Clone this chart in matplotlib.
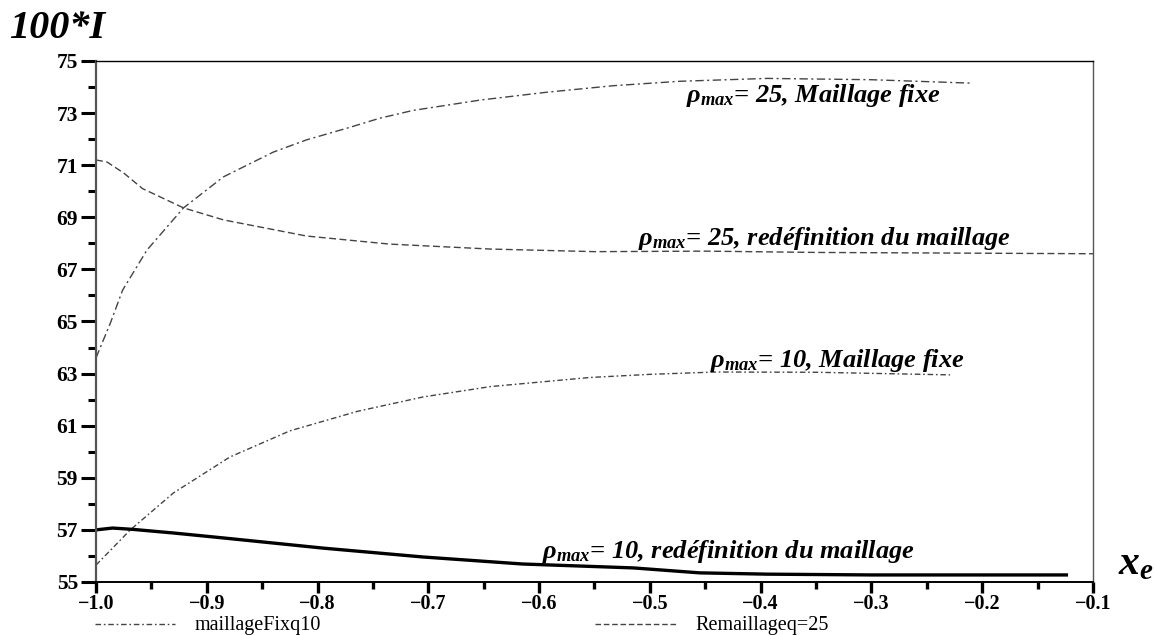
import matplotlib
matplotlib.use("Agg")
import matplotlib.pyplot as plt
from matplotlib.ticker import MultipleLocator, FixedLocator
from matplotlib.lines import Line2D

plt.rcParams['font.family'] = ['Liberation Serif', 'DejaVu Serif']
plt.rcParams['mathtext.fontset'] = 'custom'
plt.rcParams['mathtext.rm'] = 'Liberation Serif:bold:italic'
plt.rcParams['mathtext.it'] = 'Liberation Serif:bold:italic'
plt.rcParams['mathtext.bf'] = 'Liberation Serif:bold:italic'
plt.rcParams['lines.scale_dashes'] = False

# rho_max = 25, maillage fixe
x_25fix = [-1.0, -0.987, -0.976, -0.954, -0.921, -0.885, -0.84, -0.81, -0.771,
           -0.744, -0.714, -0.653, -0.593, -0.533, -0.473, -0.394, -0.30, -0.211]
y_25fix = [63.6, 64.94, 66.2, 67.74, 69.36, 70.55, 71.5, 71.97, 72.45,
           72.8, 73.1, 73.5, 73.8, 74.05, 74.22, 74.33, 74.28, 74.15]

# rho_max = 25, redefinition du maillage
x_25re = [-1.0, -0.99, -0.975, -0.958, -0.921, -0.885, -0.81, -0.735, -0.644,
          -0.55, -0.45, -0.35, -0.2, -0.1]
y_25re = [71.2, 71.12, 70.7, 70.1, 69.36, 68.9, 68.28, 67.97, 67.78,
          67.68, 67.7, 67.65, 67.62, 67.6]

# rho_max = 10, maillage fixe
x_10fix = [-1.0, -0.969, -0.93, -0.879, -0.825, -0.764, -0.705, -0.644,
           -0.554, -0.5, -0.44, -0.35, -0.229]
y_10fix = [55.65, 57.0, 58.42, 59.8, 60.8, 61.55, 62.1, 62.5,
           62.85, 62.97, 63.06, 63.05, 62.95]

# rho_max = 10, redefinition du maillage
x_10re = [-1.0, -0.985, -0.967, -0.93, -0.885, -0.795, -0.705, -0.615,
          -0.515, -0.455, -0.394, -0.3, -0.124]
y_10re = [57.0, 57.07, 57.02, 56.88, 56.69, 56.3, 55.96, 55.69,
          55.54, 55.35, 55.3, 55.27, 55.27]

x_ticks = [-1.0, -0.9, -0.8, -0.7, -0.6, -0.5, -0.4, -0.3, -0.2, -0.1]
x_ticklabels = ['\u22121.0', '\u22120.9', '\u22120.8', '\u22120.7', '\u22120.6',
                '\u22120.5', '\u22120.4', '\u22120.3', '\u22120.2', '\u22120.1']
y_ticks = [55, 57, 59, 61, 63, 65, 67, 69, 71, 73, 75]

labels = [
    (r'$\rho_{max}$= 25, Maillage fixe', -0.467, 73.43),
    (r'$\rho_{max}$= 25, redéfinition du maillage', -0.511, 67.94),
    (r'$\rho_{max}$= 10, Maillage fixe', -0.446, 63.25),
    (r'$\rho_{max}$= 10, redéfinition du maillage', -0.597, 55.92),
]

fig = plt.figure(figsize=(11.55, 6.35), dpi=100)
ax = fig.add_axes([0.0831, 0.0835, 0.8632, 0.8205])

gray = '#444444'
ax.plot(x_25fix, y_25fix, color=gray, lw=1.0, dashes=(6, 2.5, 1.5, 2.5))
ax.plot(x_25re, y_25re, color=gray, lw=1.0, dashes=(5, 2.5))
ax.plot(x_10fix, y_10fix, color=gray, lw=1.0, dashes=(4, 2, 1.2, 2))
ax.plot(x_10re, y_10re, color='black', lw=2.4)

for txt, xx, yy in labels:
    ax.text(xx, yy, txt, fontsize=19, fontweight='bold', fontstyle='italic',
            ha='left', va='baseline')

ax.set_xlim(-1.0, -0.1)
ax.set_ylim(55, 75)
ax.xaxis.set_major_locator(FixedLocator(x_ticks))
ax.set_xticklabels(x_ticklabels)
ax.xaxis.set_minor_locator(MultipleLocator(0.05))
ax.yaxis.set_major_locator(FixedLocator(y_ticks))
ax.yaxis.set_minor_locator(MultipleLocator(1))

ax.tick_params(axis='y', which='major', direction='out', length=11, width=2.2,
               pad=2, labelsize=15.5)
ax.tick_params(axis='y', which='minor', direction='out', length=6, width=2.2)
ax.tick_params(axis='x', which='major', direction='out', length=8, width=2.4,
               pad=1, labelsize=14.5)
ax.tick_params(axis='x', which='minor', direction='out', length=5, width=2.4)
for lab in ax.get_xticklabels() + ax.get_yticklabels():
    lab.set_fontweight('bold')

ax.spines['left'].set_color('#555555')
ax.spines['left'].set_linewidth(1.6)
ax.spines['bottom'].set_color('black')
ax.spines['bottom'].set_linewidth(1.4)
ax.spines['top'].set_linewidth(1.0)
ax.spines['right'].set_color('#555555')
ax.spines['right'].set_linewidth(1.0)

fig.text(0.008, 0.94, '100*I', fontsize=29, fontweight='bold', fontstyle='italic',
         ha='left', va='baseline')
fig.text(0.968, 0.095, r'$x_e$', fontsize=30, ha='left', va='baseline')

# legend at bottom
fig.add_artist(Line2D([95 / 1155, 175 / 1155], [1 - 624 / 635] * 2, color=gray,
                      lw=1.0, dashes=(4, 2, 1.2, 2)))
fig.text(195 / 1155, 1 - 630 / 635, 'maillageFixq10', fontsize=14.5,
         ha='left', va='baseline')
fig.add_artist(Line2D([595 / 1155, 677 / 1155], [1 - 624 / 635] * 2, color=gray,
                      lw=1.0, dashes=(4, 2)))
fig.text(695 / 1155, 1 - 630 / 635, 'Remaillageq=25', fontsize=14.5,
         ha='left', va='baseline')

fig.savefig('out.png', dpi=100)
